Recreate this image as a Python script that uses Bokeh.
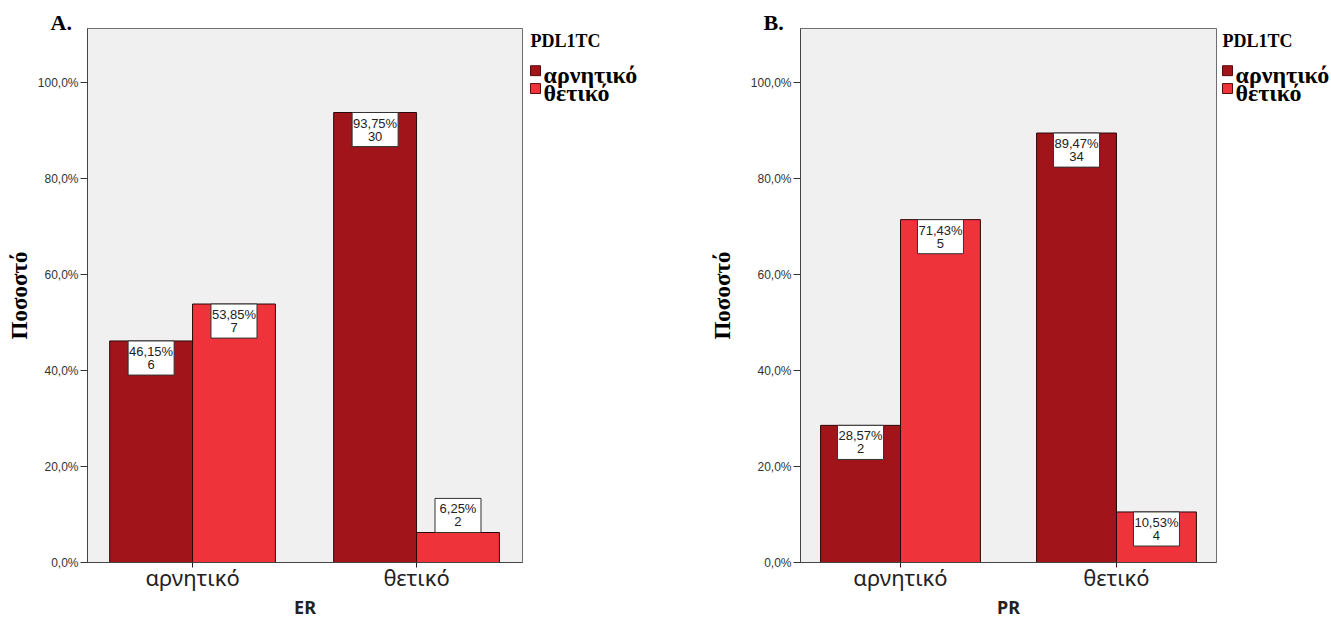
from bokeh.plotting import figure
from bokeh.layouts import row
from bokeh.models import FixedTicker, Range1d
from bokeh.core.properties import value
from bokeh.embed import file_html
from bokeh.resources import INLINE

# Categories (receptor status on the x axis, PDL1TC status as the series)
groups = ["αρνητικό", "θετικό"]
series_names = ["αρνητικό", "θετικό"]
legend_title = "PDL1TC"

# Panel A: ER
er_neg_pct = [46.15, 93.75]
er_pos_pct = [53.85, 6.25]
er_neg_n = [6, 30]
er_pos_n = [7, 2]

# Panel B: PR
pr_neg_pct = [28.57, 89.47]
pr_pos_pct = [71.43, 10.53]
pr_neg_n = [2, 34]
pr_pos_n = [5, 4]

y_ticks = [0, 20, 40, 60, 80, 100]
y_tick_labels = ["0,0%", "20,0%", "40,0%", "60,0%", "80,0%", "100,0%"]

DARK = "#A0141A"
LIGHT = "#EE333A"
EDGE = "#2a0808"
SERIES_COLORS = [DARK, LIGHT]
SERIF = "Liberation Serif"
SANS = "Liberation Sans"
UI = "Noto Sans"

Y_END = 111.25
BAR_W = 0.37
BOX_H = 7.1
TOP = 28
FRAME_H = 534
HEIGHT = 617


def fmt_pct(v):
    return f"{v:.2f}".replace(".", ",") + "%"


def make_panel(letter, axis_name, neg_pct, pos_pct, neg_n, pos_n,
               frame_w, border_left, x_start, x_end, ylabel_standoff):
    p = figure(frame_width=frame_w, frame_height=FRAME_H,
               x_range=Range1d(x_start, x_end), y_range=Range1d(0, Y_END),
               output_backend="svg", toolbar_location=None,
               min_border_left=border_left, min_border_right=1,
               min_border_top=TOP, min_border_bottom=HEIGHT - TOP - FRAME_H)
    p.background_fill_color = "#F0F0F0"
    p.border_fill_color = "white"
    p.outline_line_color = "#6e6e6e"
    p.xgrid.visible = False
    p.ygrid.visible = False

    # panel letter, placed left of the frame's top corner
    p.title.text = letter
    p.title.align = "left"
    p.title.offset = -37
    p.title.standoff = -12
    p.title.text_font = SERIF
    p.title.text_font_style = "bold"
    p.title.text_font_size = "22px"
    p.title.text_color = "black"

    centers = [i + 1 for i in range(len(groups))]
    x_neg = [c - BAR_W / 2 for c in centers]
    x_pos = [c + BAR_W / 2 for c in centers]

    p.vbar(x=x_neg, top=neg_pct, width=BAR_W, fill_color=DARK,
           line_color=EDGE, line_width=1)
    p.vbar(x=x_pos, top=pos_pct, width=BAR_W, fill_color=LIGHT,
           line_color=EDGE, line_width=1)

    # value boxes: inside the bar top, or on top of short bars
    xs, tops, pct_txt, n_txt = [], [], [], []
    for xv, pv, nv in list(zip(x_neg, neg_pct, neg_n)) + list(zip(x_pos, pos_pct, pos_n)):
        top = pv if pv > BOX_H + 1 else pv + BOX_H
        xs.append(xv)
        tops.append(top)
        pct_txt.append(fmt_pct(pv))
        n_txt.append(str(nv))
    p.rect(x=xs, y=[t - BOX_H / 2 for t in tops], width=46, width_units="screen",
           height=BOX_H, fill_color="white", line_color="#333333", line_width=1)
    p.text(x=xs, y=tops, text=pct_txt, y_offset=3, text_baseline="top",
           text_align="center", text_font=value(SANS), text_font_size="13px",
           text_color="#222222")
    p.text(x=xs, y=tops, text=n_txt, y_offset=19, text_baseline="top",
           text_align="center", text_font=value(SANS), text_font_size="13px",
           text_color="#222222")

    # y axis
    ya = p.yaxis[0]
    ya.ticker = FixedTicker(ticks=y_ticks)
    ya.major_label_overrides = dict(zip(y_ticks, y_tick_labels))
    ya.major_label_text_font = SANS
    ya.major_label_text_font_size = "12px"
    ya.major_label_text_color = "#333333"
    ya.major_tick_out = 7
    ya.major_tick_in = 0
    ya.minor_tick_out = 0
    ya.minor_tick_in = 0
    ya.major_tick_line_color = "#333333"
    ya.axis_line_color = "#444444"
    ya.major_label_standoff = 2
    ya.axis_label = "Ποσοστό"
    ya.axis_label_text_font = SERIF
    ya.axis_label_text_font_style = "bold"
    ya.axis_label_text_font_size = "23px"
    ya.axis_label_text_color = "black"
    ya.axis_label_standoff = ylabel_standoff

    # x axis
    xa = p.xaxis[0]
    xa.ticker = FixedTicker(ticks=centers)
    xa.major_label_overrides = dict(zip(centers, groups))
    xa.major_label_text_font = UI
    xa.major_label_text_font_size = "22px"
    xa.major_label_text_color = "#222222"
    xa.major_tick_out = 5
    xa.major_tick_in = 0
    xa.minor_tick_out = 0
    xa.minor_tick_in = 0
    xa.major_tick_line_color = "#222222"
    xa.axis_line_color = "#444444"
    xa.major_label_standoff = -6
    xa.axis_label = axis_name
    xa.axis_label_text_font = UI
    xa.axis_label_text_font_style = "bold"
    xa.axis_label_text_font_size = "18px"
    xa.axis_label_text_color = "#222222"
    xa.axis_label_standoff = 0
    return p


def make_legend(width, x0):
    # narrow strip beside a chart holding its PDL1TC key; the row lines its
    # frame up with the chart frame, so the ranges are set in page pixels
    lp = figure(width=width, height=HEIGHT,
                x_range=Range1d(0, width), y_range=Range1d(TOP + FRAME_H, TOP),
                x_axis_location=None, y_axis_location=None,
                output_backend="svg", toolbar_location=None,
                min_border_left=0, min_border_top=TOP,
                min_border_right=0, min_border_bottom=HEIGHT - TOP - FRAME_H)
    lp.outline_line_color = None
    lp.xgrid.visible = False
    lp.ygrid.visible = False
    lp.border_fill_color = "white"
    lp.background_fill_color = "white"

    lp.text(x=[x0], y=[41], text=[legend_title], text_baseline="alphabetic",
            text_font=value(SERIF), text_font_style="bold", text_font_size="18px",
            text_color="black")
    key_y = [70.5, 88.5]
    lp.rect(x=[x0 + 5] * len(series_names), y=key_y, width=10, height=10,
            fill_color=SERIES_COLORS, line_color="#5a0a0a", line_width=1)
    lp.text(x=[x0 + 13] * len(series_names), y=[k + 4 for k in key_y],
            text=series_names, text_baseline="alphabetic",
            text_font=value(SERIF), text_font_style="bold", text_font_size="24px",
            text_color="black")
    return lp


pa = make_panel("A.", "ER", er_neg_pct, er_pos_pct, er_neg_n, er_pos_n,
                frame_w=435, border_left=87,
                x_start=0.531, x_end=2.473, ylabel_standoff=3)
la = make_legend(167, 7)
pb = make_panel("B.", "PR", pr_neg_pct, pr_pos_pct, pr_neg_n, pr_pos_n,
                frame_w=416, border_left=110,
                x_start=0.537, x_end=2.463, ylabel_standoff=13)
lb = make_legend(114, 5)

layout = row(pa, la, pb, lb)
open("out.html", "w").write(file_html(layout, INLINE))
